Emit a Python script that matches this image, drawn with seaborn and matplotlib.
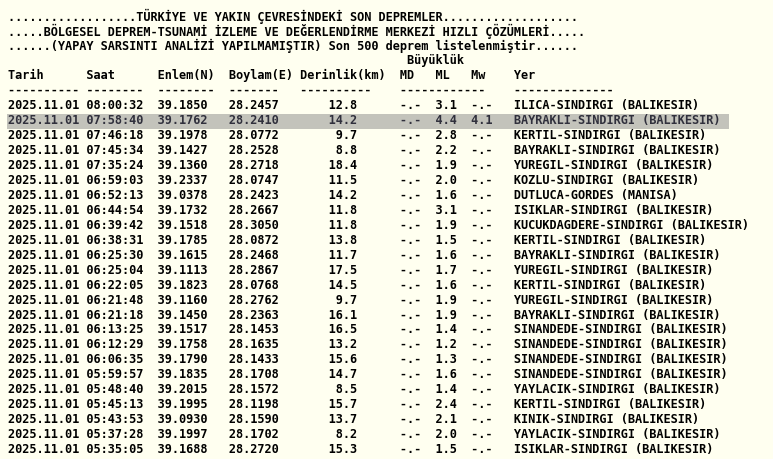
import numpy as np
import seaborn as sns
import pandas as pd
import matplotlib.pyplot as plt
from matplotlib.patches import Rectangle

#########################################################################################
# son depremler listesi (kandilli formatinda duz metin tablo)
#########################################################################################

title_lines = [
    "..................TÜRKİYE VE YAKIN ÇEVRESİNDEKİ SON DEPREMLER...................",
    ".....BÖLGESEL DEPREM-TSUNAMİ İZLEME VE DEĞERLENDİRME MERKEZİ HIZLI ÇÖZÜMLERİ.....",
    "......(YAPAY SARSINTI ANALİZİ YAPILMAMIŞTIR) Son 500 deprem listelenmiştir......",
]

tarih = ["2025.11.01"] * 24
saat = ["08:00:32", "07:58:40", "07:46:18", "07:45:34", "07:35:24", "06:59:03",
        "06:52:13", "06:44:54", "06:39:42", "06:38:31", "06:25:30", "06:25:04",
        "06:22:05", "06:21:48", "06:21:18", "06:13:25", "06:12:29", "06:06:35",
        "05:59:57", "05:48:40", "05:45:13", "05:43:53", "05:37:28", "05:35:05"]
enlem = [39.1850, 39.1762, 39.1978, 39.1427, 39.1360, 39.2337, 39.0378, 39.1732,
         39.1518, 39.1785, 39.1615, 39.1113, 39.1823, 39.1160, 39.1450, 39.1517,
         39.1758, 39.1790, 39.1835, 39.2015, 39.1995, 39.0930, 39.1997, 39.1688]
boylam = [28.2457, 28.2410, 28.0772, 28.2528, 28.2718, 28.0747, 28.2423, 28.2667,
          28.3050, 28.0872, 28.2468, 28.2867, 28.0768, 28.2762, 28.2363, 28.1453,
          28.1635, 28.1433, 28.1708, 28.1572, 28.1198, 28.1590, 28.1702, 28.2720]
derinlik = [12.8, 14.2, 9.7, 8.8, 18.4, 11.5, 14.2, 11.8, 11.8, 13.8, 11.7, 17.5,
            14.5, 9.7, 16.1, 16.5, 13.2, 15.6, 14.7, 8.5, 15.7, 13.7, 8.2, 15.3]
md = [None] * 24
ml = [3.1, 4.4, 2.8, 2.2, 1.9, 2.0, 1.6, 3.1, 1.9, 1.5, 1.6, 1.7,
      1.6, 1.9, 1.9, 1.4, 1.2, 1.3, 1.6, 1.4, 2.4, 2.1, 2.0, 1.5]
mw = [None, 4.1] + [None] * 22
yer = ["ILICA-SINDIRGI (BALIKESIR)", "BAYRAKLI-SINDIRGI (BALIKESIR)",
       "KERTIL-SINDIRGI (BALIKESIR)", "BAYRAKLI-SINDIRGI (BALIKESIR)",
       "YUREGIL-SINDIRGI (BALIKESIR)", "KOZLU-SINDIRGI (BALIKESIR)",
       "DUTLUCA-GORDES (MANISA)", "ISIKLAR-SINDIRGI (BALIKESIR)",
       "KUCUKDAGDERE-SINDIRGI (BALIKESIR)", "KERTIL-SINDIRGI (BALIKESIR)",
       "BAYRAKLI-SINDIRGI (BALIKESIR)", "YUREGIL-SINDIRGI (BALIKESIR)",
       "KERTIL-SINDIRGI (BALIKESIR)", "YUREGIL-SINDIRGI (BALIKESIR)",
       "BAYRAKLI-SINDIRGI (BALIKESIR)", "SINANDEDE-SINDIRGI (BALIKESIR)",
       "SINANDEDE-SINDIRGI (BALIKESIR)", "SINANDEDE-SINDIRGI (BALIKESIR)",
       "SINANDEDE-SINDIRGI (BALIKESIR)", "YAYLACIK-SINDIRGI (BALIKESIR)",
       "KERTIL-SINDIRGI (BALIKESIR)", "KINIK-SINDIRGI (BALIKESIR)",
       "YAYLACIK-SINDIRGI (BALIKESIR)", "ISIKLAR-SINDIRGI (BALIKESIR)"]

df = pd.DataFrame({"tarih": tarih, "saat": saat, "enlem": enlem, "boylam": boylam,
                   "derinlik": derinlik, "md": md, "ml": ml, "mw": mw, "yer": yer})


def mag(v):
    return "-.-" if v is None or pd.isna(v) else f"{v:.1f}"


header = ("Tarih".ljust(11) + "Saat".ljust(10) + "Enlem(N)".ljust(10) + "Boylam(E)".ljust(10)
          + "Derinlik(km)".ljust(14) + "MD".ljust(5) + "ML".ljust(5) + "Mw".ljust(6) + "Yer")
buyukluk = " " * 56 + "Büyüklük"
dashes = ("-" * 10 + " " + "-" * 8 + "  " + "-" * 8 + "  " + "-" * 7 + "   "
          + "-" * 10 + "    " + "-" * 12 + "    " + "-" * 14)

rows = []
for r in df.itertuples():
    rows.append(f"{r.tarih:<10} {r.saat:<8}  {r.enlem:.4f}   {r.boylam:.4f}   {r.derinlik:>8.1f}"
                f"      {mag(r.md):>3}  {mag(r.ml):>3}  {mag(r.mw):>3}   {r.yer}")

lines = title_lines + [buyukluk, header, dashes] + rows
n_head = len(lines) - len(rows)
highlight = [i for i, m in enumerate(ml) if m >= 4.0]

sns.set_theme(style="white")
W, H = 773, 459
fig = plt.figure(figsize=(W / 100, H / 100), dpi=100)
ax = fig.add_axes([0, 0, 1, 1])
bg = "#fffff0"
fig.patch.set_facecolor(bg)
ax.set_facecolor(bg)
ax.set_xlim(0, W)
ax.set_ylim(H, 0)
ax.axis("off")

x0, y0, pitch, cw = 8, 16, 14.95, 7.15
fsize = cw / 0.602 * 72 / 100

for i in highlight:
    yc = y0 + (n_head + i) * pitch
    ax.add_patch(Rectangle((x0 - 1, yc - pitch / 2 + 0.5), 101 * cw, pitch,
                           facecolor="#c3c3bb", edgecolor="none", zorder=1))

for k, line in enumerate(lines):
    col = "#30303c" if (k - n_head) in highlight else "#000000"
    ax.text(x0, y0 + k * pitch, line, family="DejaVu Sans Mono", fontweight="bold",
            fontsize=fsize, color=col, ha="left", va="center", zorder=2)

fig.savefig("out.png", dpi=100, facecolor=bg)
